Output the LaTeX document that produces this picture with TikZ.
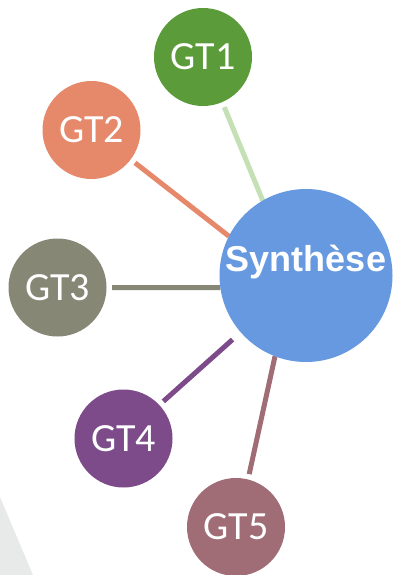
\documentclass[tikz,border=0pt]{standalone}
\usepackage{fontspec}
\setmainfont{Carlito}
\newfontfamily\synfont{Liberation Sans}
\usepackage{tikz}
\usetikzlibrary{positioning,backgrounds}

\definecolor{gtone}{HTML}{5C9B3A}
\definecolor{gtoneline}{HTML}{C5E0B4}
\definecolor{gttwo}{HTML}{E6886A}
\definecolor{gtthree}{HTML}{868774}
\definecolor{gtfour}{HTML}{7D4B8A}
\definecolor{gtfive}{HTML}{A06C76}
\definecolor{synblue}{HTML}{6699E0}
\definecolor{shadegray}{HTML}{E8E9E9}

\begin{document}
\begin{tikzpicture}[x=1pt, y=-1pt,
    gtnode/.style={circle, minimum size=98pt, inner sep=0pt, outer sep=5.5pt,
                   text=white, font=\fontsize{40}{40}\selectfont},
    synnode/.style={circle, minimum size=173pt, inner sep=0pt, outer sep=0pt, fill=synblue},
    spoke/.style={line width=5pt}
]
    \useasboundingbox (0, 0) rectangle (393, 575);
    \fill[shadegray] (0, 497) -- (33, 575) -- (0, 575) -- cycle;

    \node[synnode, label={[text=white, yshift=13pt, font=\synfont\bfseries\fontsize{36}{36}\selectfont]center:Synthèse}] (syn) at (306, 275.5) {};

    \node[gtnode, fill=gtone]   (gt1) at (203, 57)    {GT1};
    \node[gtnode, fill=gttwo]   (gt2) at (91.5, 130)  {GT2};
    \node[gtnode, fill=gtthree] (gt3) at (57.5, 287.5) {GT3};
    \node[gtnode, fill=gtfour]  (gt4) at (123.5, 438.5) {GT4};
    \node[gtnode, fill=gtfive]  (gt5) at (236, 527)   {GT5};

    \begin{scope}[on background layer]
        \draw[spoke, gtoneline] (gt1.-67.6) -- (syn.120);
        \draw[spoke, gttwo]     (gt2.-37.2) -- (syn.153);
        \draw[spoke, gtthree]   (gt3.0)     -- (syn.188);
        \draw[spoke, gtfour, shorten >=11pt] (gt4.43.5) -- (syn.221);
        \draw[spoke, gtfive]    (gt5.76.2)  -- (syn.249.3);
    \end{scope}
\end{tikzpicture}
\end{document}
